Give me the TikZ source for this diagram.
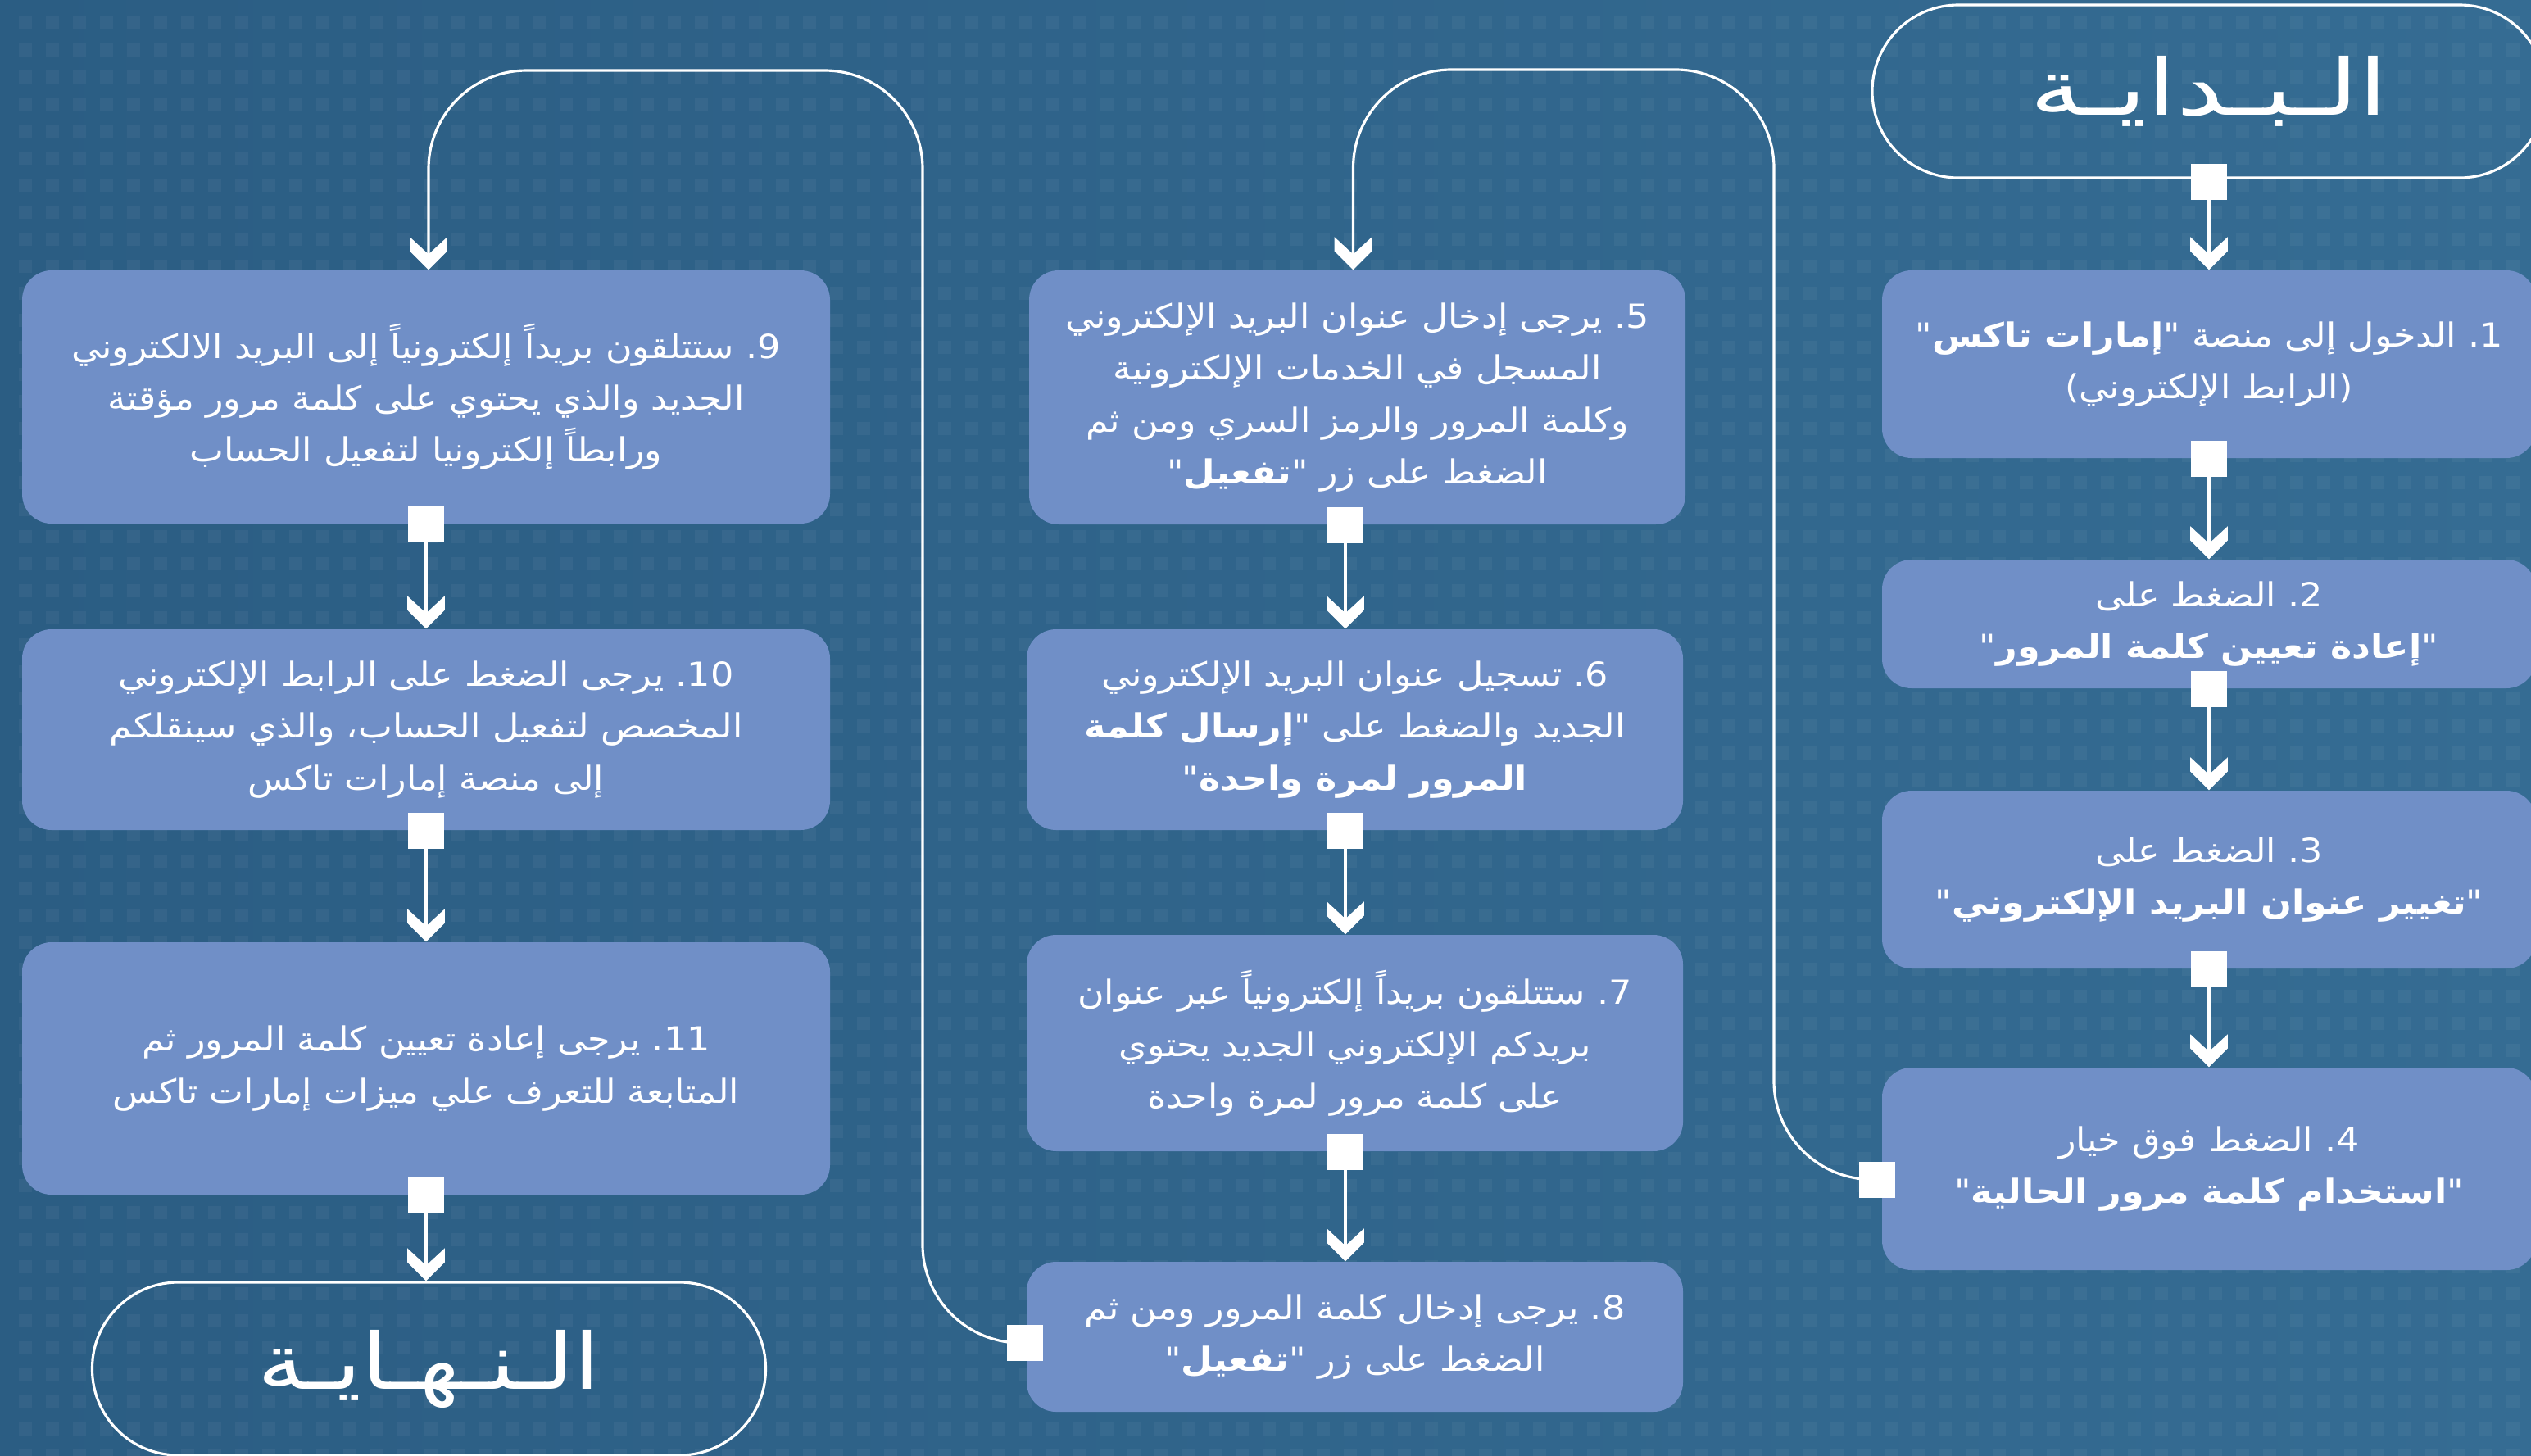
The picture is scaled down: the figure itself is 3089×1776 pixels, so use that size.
\documentclass[tikz,border=0pt]{standalone}
\usepackage{fontspec}
\setmainfont{DejaVu Sans}
\newfontfamily\arfont[Script=Arabic, FakeStretch=1.1]{DejaVu Sans}
\newfontfamily\titlefont[Script=Arabic, FakeStretch=1.36]{DejaVu Sans}
\newfontfamily\titlefontE[Script=Arabic, FakeStretch=1.21]{DejaVu Sans}
\TeXXeTstate=1
\usetikzlibrary{calc}
\definecolor{bgL}{RGB}{43,93,131}
\definecolor{bgR}{RGB}{53,108,147}
\definecolor{boxc}{RGB}{112,143,199}
\newcommand{\arl}[1]{\beginR #1\endR}
\pgfdeclarearrow{
  name = Chev,
  setup code = {
    \pgfarrowssettipend{0pt}
    \pgfarrowssetbackend{-11.4pt}
    \pgfarrowssetlineend{-5.4pt}
    \pgfarrowssetvisualbackend{-5.4pt}
    \pgfarrowshullpoint{0pt}{0pt}
    \pgfarrowshullpoint{-11.4pt}{6.5pt}
    \pgfarrowshullpoint{-11.4pt}{-6.5pt}
  },
  drawing code = {
    \pgfpathmoveto{\pgfqpoint{0pt}{0pt}}
    \pgfpathlineto{\pgfqpoint{-6.5pt}{6.5pt}}
    \pgfpathlineto{\pgfqpoint{-11.4pt}{6.5pt}}
    \pgfpathlineto{\pgfqpoint{-5.4pt}{0pt}}
    \pgfpathlineto{\pgfqpoint{-11.4pt}{-6.5pt}}
    \pgfpathlineto{\pgfqpoint{-6.5pt}{-6.5pt}}
    \pgfpathclose
    \pgfusepathqfill
  }
}
\tikzset{
  box/.style={fill=boxc, rounded corners=3.6mm, inner sep=0pt, align=center, text=white,
    font=\arfont\fontsize{11.5}{18}\selectfont},
  term/.style={draw=white, line width=0.9pt, rounded corners=10.5mm, minimum width=82.2mm,
    minimum height=21.1mm, inner sep=0pt, text=white, font=\titlefont\fontsize{27}{30}\selectfont},
  conn/.style={white, line width=0.9pt, -Chev},
  loopconn/.style={conn, rounded corners=12mm},
  sq/.style={fill=white, minimum size=4.4mm, inner sep=0pt},
}
\begin{document}
\begin{tikzpicture}[x=0.1mm,y=-0.1mm]
\useasboundingbox (0,0) rectangle (3089,1776);
\clip (0,0) rectangle (3089,1776);
\shade[left color=bgL,right color=bgR] (0,0) rectangle (3089,1776);
\fill[white,opacity=0.045] \foreach \i in {0,...,93}{\foreach \j in {0,...,53}{(\i*33+23,\j*33+20) rectangle ++(16,16)}};

% terminals
\node[term] (start) at (2696,111.5) {\arl{الـبـدايـة}};
\node[term, font=\titlefontE\fontsize{27}{30}\selectfont] (end) at (523.5,1670.5) {\arl{الـنـهـايـة}};

% column 1
\node[box, minimum width=79.8mm, minimum height=22.9mm] (b1) at (2696,444.5)
  {\arl{\mbox{1}\mbox{.} الدخول إلى منصة "\textbf{إمارات تاكس}"}\\\arl{(الرابط الإلكتروني)}};
\node[box, minimum width=79.8mm, minimum height=15.7mm] (b2) at (2696,761.5)
  {\arl{\mbox{2}\mbox{.} الضغط على}\\\arl{"\textbf{إعادة تعيين كلمة المرور}"}};
\node[box, minimum width=79.8mm, minimum height=21.7mm] (b3) at (2696,1073.5)
  {\arl{\mbox{3}\mbox{.} الضغط على}\\\arl{"\textbf{تغيير عنوان البريد الإلكتروني}"}};
\node[box, minimum width=79.8mm, minimum height=24.7mm] (b4) at (2696,1426.5)
  {\arl{\mbox{4}\mbox{.} الضغط فوق خيار}\\\arl{"\textbf{استخدام كلمة مرور الحالية}"}};

% column 2
\node[box, minimum width=80.1mm, minimum height=31mm] (b5) at (1656.5,485)
  {\arl{\mbox{5}\mbox{.} يرجى إدخال عنوان البريد الإلكتروني}\\\arl{المسجل في الخدمات الإلكترونية}\\\arl{وكلمة المرور والرمز السري ومن ثم}\\\arl{الضغط على زر "\textbf{تفعيل}"}};
\node[box, minimum width=80.1mm, minimum height=24.5mm] (b6) at (1653.5,890.5)
  {\arl{\mbox{6}\mbox{.} تسجيل عنوان البريد الإلكتروني}\\\arl{الجديد والضغط على "\textbf{إرسال كلمة}}\\\arl{\textbf{المرور لمرة واحدة}"}};
\node[box, minimum width=80.1mm, minimum height=26.4mm] (b7) at (1653.5,1273)
  {\arl{\mbox{7}\mbox{.} ستتلقون بريداً إلكترونياً عبر عنوان}\\\arl{بريدكم الإلكتروني الجديد يحتوي}\\\arl{على كلمة مرور لمرة واحدة}};
\node[box, minimum width=80.1mm, minimum height=18.3mm] (b8) at (1653.5,1631.5)
  {\arl{\mbox{8}\mbox{.} يرجى إدخال كلمة المرور ومن ثم}\\\arl{الضغط على زر "\textbf{تفعيل}"}};

% column 3
\node[box, minimum width=98.6mm, minimum height=30.9mm] (b9) at (520,484.5)
  {\arl{\mbox{9}\mbox{.} ستتلقون بريداً إلكترونياً إلى البريد الالكتروني}\\\arl{الجديد والذي يحتوي على كلمة مرور مؤقتة}\\\arl{ورابطاً إلكترونيا لتفعيل الحساب}};
\node[box, minimum width=98.6mm, minimum height=24.5mm] (b10) at (520,890.5)
  {\arl{\mbox{10}\mbox{.} يرجى الضغط على الرابط الإلكتروني}\\\arl{المخصص لتفعيل الحساب، والذي سينقلكم}\\\arl{إلى منصة إمارات تاكس}};
\node[box, minimum width=98.6mm, minimum height=30.8mm] (b11) at (520,1304)
  {\arl{\mbox{11}\mbox{.} يرجى إعادة تعيين كلمة المرور ثم}\\\arl{المتابعة للتعرف علي ميزات إمارات تاكس}};

% connector start points
\coordinate (p0) at ([yshift=-0.3mm]start.south);
\coordinate (p1) at (b1.south);
\coordinate (p2) at (b2.south);
\coordinate (p3) at (b3.south);
\coordinate (p4) at ([shift={(-5,13)}]b4.west);
\coordinate (p5) at ([xshift=-1.45mm]b5.south);
\coordinate (p6) at ([xshift=-1.15mm]b6.south);
\coordinate (p7) at ([xshift=-1.15mm]b7.south);
\coordinate (p8) at ([shift={(-1,7.5)}]b8.west);
\coordinate (p9) at (b9.south);
\coordinate (p10) at (b10.south);
\coordinate (p11) at (b11.south);
\coordinate (loopA) at (2165,85);
\coordinate (loopB) at (1126,86);

% connectors
\draw[conn] (p0) -- (p0 |- b1.north);
\draw[conn] (p1) -- (p1 |- b2.north);
\draw[conn] (p2) -- (p2 |- b3.north);
\draw[conn] (p3) -- (p3 |- b4.north);
\draw[loopconn] (p4) -| (loopA) -| ([xshift=-0.5mm]b5.north);
\draw[conn] (p5) -- (p5 |- b6.north);
\draw[conn] (p6) -- (p6 |- b7.north);
\draw[conn] (p7) -- (p7 |- b8.north);
\draw[loopconn] (p8) -| (loopB) -| ([xshift=0.3mm]b9.north);
\draw[conn] (p9) -- (p9 |- b10.north);
\draw[conn] (p10) -- (p10 |- b11.north);
\draw[conn] (p11) -- (p11 |- end.north);

% squares
\foreach \k in {0,...,11}{\node[sq] (q\k) at (p\k) {};}
\end{tikzpicture}
\end{document}
